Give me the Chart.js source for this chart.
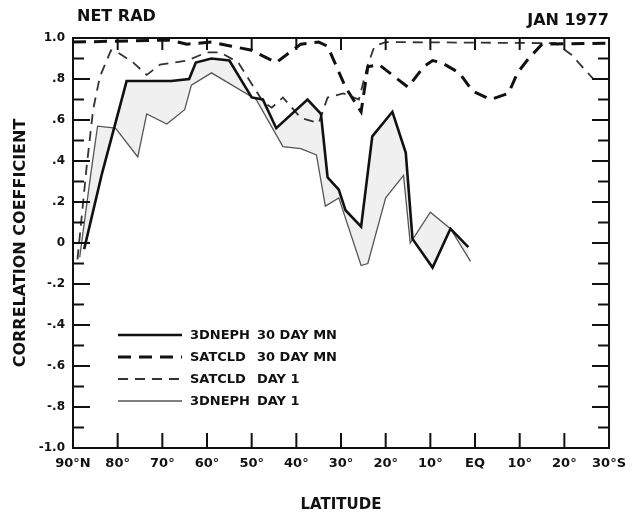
<!DOCTYPE html>
<html>
<head>
<meta charset="utf-8">
<script src="https://cdn.jsdelivr.net/npm/chart.js@4.4.1/dist/chart.umd.min.js"></script>
<style>
  html, body { margin: 0; padding: 0; background: #fff; }
  #wrap { width: 634px; height: 514px; position: relative; }
</style>
</head>
<body>
<div id="wrap"><canvas id="chart" width="634" height="514"></canvas></div>
<script>
// latitude in degrees: + north, - south
const xTickLats = [90, 80, 70, 60, 50, 40, 30, 20, 10, 0, -10, -20, -30];
const xTickLabels = ['90°N', '80°', '70°', '60°', '50°', '40°', '30°', '20°', '10°', 'EQ', '10°', '20°', '30°S'];
const yTickValues = [-1, -0.8, -0.6, -0.4, -0.2, 0, 0.2, 0.4, 0.6, 0.8, 1];
const yTickLabels = ['-1.0', '-.8', '-.6', '-.4', '-.2', '0', '.2', '.4', '.6', '.8', '1.0'];

const neph30Lat = [87.5, 83.5, 78, 68, 64, 62.5, 59, 55, 50, 47.5, 44.5, 37.5, 34.5, 33, 30.5, 29, 25.5, 23, 18.5, 15.5, 14, 9.5, 5.5, 1.5];
const neph30Val = [-0.03, 0.34, 0.79, 0.79, 0.80, 0.88, 0.90, 0.89, 0.71, 0.70, 0.56, 0.70, 0.63, 0.32, 0.26, 0.16, 0.08, 0.52, 0.64, 0.44, 0.02, -0.12, 0.07, -0.02];

const sat30Lat = [90, 68.5, 64.5, 59, 54.5, 50, 44.5, 41.5, 39, 35, 33, 29, 25.5, 24, 21.5, 15, 11.5, 9.5, 7.5, 3.5, 0.5, -3.5, -7.5, -9.5, -12, -15, -30];
const sat30Val = [0.98, 0.99, 0.97, 0.98, 0.96, 0.94, 0.88, 0.93, 0.97, 0.98, 0.96, 0.76, 0.64, 0.86, 0.87, 0.76, 0.86, 0.89, 0.88, 0.83, 0.74, 0.70, 0.73, 0.83, 0.90, 0.97, 0.975];

const satDay1Lat = [89, 87, 85.5, 84, 81.5, 80, 76.5, 73.5, 70.5, 64.5, 60, 57, 53, 47.5, 45.5, 43, 39, 35, 33, 29.5, 26, 24, 22.5, 20, -18, -21.5, -26.5, -30];
const satDay1Val = [-0.08, 0.36, 0.65, 0.81, 0.94, 0.93, 0.88, 0.82, 0.87, 0.89, 0.93, 0.93, 0.88, 0.69, 0.66, 0.71, 0.61, 0.585, 0.71, 0.73, 0.70, 0.87, 0.96, 0.98, 0.975, 0.92, 0.80, 0.80];

const nephDay1Lat = [88.5, 86, 84.5, 80.5, 75.5, 73.5, 69, 65, 63.5, 59, 49, 43, 39, 35.5, 33.5, 30.5, 25.5, 24, 20, 16, 14.5, 10, 5.5, 1];
const nephDay1Val = [-0.07, 0.34, 0.57, 0.56, 0.42, 0.63, 0.58, 0.65, 0.77, 0.83, 0.70, 0.47, 0.46, 0.43, 0.18, 0.22, -0.11, -0.10, 0.22, 0.33, 0.0, 0.15, 0.07, -0.09];

const FONT = 'DejaVu Sans';

function pts(lats, vals) {
  return lats.map((lat, i) => ({ x: 90 - lat, y: vals[i] }));
}

const framePlugin = {
  id: 'frame',
  afterDraw(chart) {
    const ctx = chart.ctx;
    const a = chart.chartArea;
    const xs = chart.scales.x, ys = chart.scales.y;
    ctx.save();
    ctx.strokeStyle = '#111';
    ctx.lineWidth = 2;
    ctx.strokeRect(a.left, a.top, a.right - a.left, a.bottom - a.top);
    // inward ticks
    ctx.lineWidth = 2;
    ctx.beginPath();
    xTickLats.forEach((lat, i) => {
      if (i === 0 || i === xTickLats.length - 1) return;
      const px = xs.getPixelForValue(90 - lat);
      ctx.moveTo(px, a.bottom); ctx.lineTo(px, a.bottom - 15);
      ctx.moveTo(px, a.top); ctx.lineTo(px, a.top + 12);
    });
    for (let k = -9; k <= 9; k++) {
      const py = ys.getPixelForValue(k / 10);
      const major = k % 2 === 0;
      ctx.moveTo(a.left, py); ctx.lineTo(a.left + (major ? 17 : 11), py);
      ctx.moveTo(a.right, py); ctx.lineTo(a.right - (major ? 17 : 11), py);
    }
    ctx.stroke();

    // header texts
    ctx.fillStyle = '#111';
    ctx.font = 'bold 16px "' + FONT + '"';
    ctx.textBaseline = 'middle';
    ctx.textAlign = 'left';
    ctx.fillText('NET RAD', 77, 17);
    ctx.textAlign = 'right';
    ctx.fillText('JAN 1977', 609, 21);

    // legend
    ctx.font = 'bold 13px "' + FONT + '"';
    ctx.textAlign = 'left';
    chart.data.datasets.forEach((ds, i) => {
      const y = 335 + i * 22;
      ctx.beginPath();
      ctx.strokeStyle = ds.borderColor;
      ctx.lineWidth = ds.borderWidth;
      ctx.setLineDash(ds.borderDash || []);
      ctx.moveTo(118, y); ctx.lineTo(182, y);
      ctx.stroke();
      ctx.setLineDash([]);
      const parts = ds.label.split('  ');
      ctx.fillStyle = '#111';
      ctx.fillText(parts[0], 190, y + 1);
      ctx.fillText(parts[1], 257, y + 1);
    });
    ctx.restore();
  }
};

new Chart(document.getElementById('chart'), {
  type: 'line',
  data: {
    datasets: [
      { label: '3DNEPH  30 DAY MN', data: pts(neph30Lat, neph30Val), borderColor: '#111', borderWidth: 2.6, fill: false },
      { label: 'SATCLD  30 DAY MN', data: pts(sat30Lat, sat30Val), borderColor: '#111', borderWidth: 3, borderDash: [13, 8], fill: false },
      { label: 'SATCLD  DAY 1', data: pts(satDay1Lat, satDay1Val), borderColor: '#333', borderWidth: 1.8, borderDash: [10, 7], fill: false },
      { label: '3DNEPH  DAY 1', data: pts(nephDay1Lat, nephDay1Val), borderColor: '#555', borderWidth: 1.3, fill: { target: 0 }, backgroundColor: 'rgba(0,0,0,0.06)' }
    ]
  },
  options: {
    responsive: false,
    animation: false,
    devicePixelRatio: 1,
    layout: { padding: { top: 38, right: 22, bottom: 0, left: 0 } },
    elements: { point: { radius: 0 }, line: { tension: 0 } },
    plugins: { legend: { display: false }, tooltip: { enabled: false } },
    scales: {
      x: {
        type: 'linear', min: 0, max: 120,
        afterBuildTicks: s => { s.ticks = xTickLats.map(lat => ({ value: 90 - lat })); },
        afterFit: s => { s.height = 66; },
        grid: { display: false, drawTicks: false },
        border: { display: false },
        ticks: {
          padding: 8, color: '#111', maxRotation: 0, autoSkip: false,
          font: { family: FONT, size: 13, weight: 'bold' },
          callback: (v, i) => xTickLabels[i]
        },
        title: { display: true, text: 'LATITUDE', color: '#111', padding: { top: 0, bottom: 0 }, font: { family: FONT, size: 15, weight: 'bold' } }
      },
      y: {
        min: -1, max: 1,
        afterBuildTicks: s => { s.ticks = yTickValues.map(v => ({ value: v })); },
        afterFit: s => { s.width = 73; },
        grid: { display: false, drawTicks: false },
        border: { display: false },
        ticks: {
          padding: 8, color: '#111', autoSkip: false,
          font: { family: FONT, size: 12, weight: 'bold' },
          callback: (v, i) => yTickLabels[i]
        },
        title: { display: true, text: 'CORRELATION COEFFICIENT', color: '#111', padding: { top: 11, bottom: 0 }, font: { family: FONT, size: 16, weight: 'bold' } }
      }
    }
  },
  plugins: [framePlugin]
});
</script>
</body>
</html>
